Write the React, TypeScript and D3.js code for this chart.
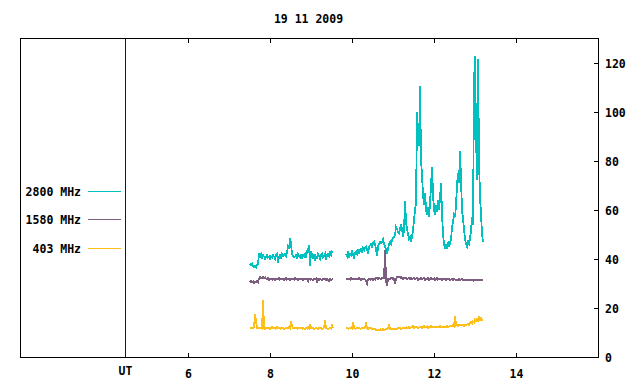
import * as d3 from 'd3'

const TITLE = '19 11 2009'
const X_TICKS = [6, 8, 10, 12, 14]
const Y_TICKS = [0, 20, 40, 60, 80, 100, 120]
const UT_HOUR = 4.46

// samples every ~1.46 min (UT hours)
const STEP = 0.02439
const SEG1_START = 7.512
const SEG2_START = 9.854

const CYAN_1 = [
  38, 37.5, 38, 37, 36.5, 37, 36.5, 37.5, 38, 42.5,
  41, 42, 40.5, 41.5, 41, 40, 41, 41.5, 40.5, 41,
  40, 41, 40.5, 41.5, 41, 40, 41.5, 42, 38.5, 41,
  41.5, 40.5, 42, 41, 41.5, 42, 41, 42.5, 45, 44,
  48.5, 46, 42, 41, 40.5, 41, 41.5, 40.5, 42, 41,
  40.5, 42, 40, 41.5, 41, 42, 40.5, 43, 44, 45.5,
  37, 43, 41.5, 40, 42, 39, 41, 40.5, 42, 41,
  40, 41.5, 42, 40.5, 41, 42, 39.5, 41.5, 42, 41,
  42.5, 41.5, 43, 42.5,
]
const CYAN_2 = [
  42, 41, 43, 40.5, 42, 41.5, 43, 42, 40, 42.5,
  43, 42, 43.5, 42.5, 43.5, 44, 43, 44.5, 43.5, 44.5,
  45, 44, 42, 45, 45.5, 46, 45, 46.5, 47, 46,
  44, 41, 45, 46, 47, 46.5, 47, 48, 46, 45,
  44, 42.5, 44, 46, 47, 46, 47.5, 48.5, 49, 50,
  53, 52, 51, 50.5, 52, 54, 52, 49, 52, 63.5,
  55, 52, 50, 48, 49, 47, 49, 52, 56, 60,
  63, 100, 92, 86, 110.5, 80, 74, 66, 62, 67,
  60, 58, 61, 57, 63, 70, 77.5, 66, 60, 58,
  62, 59, 64, 60, 65, 71, 58, 50, 46, 44.5,
  46, 44, 47, 45, 46.5, 48, 53, 55, 58, 57,
  62, 70, 75, 71, 84, 72, 60, 56, 52, 48,
  46, 45, 47, 46, 48, 52, 57, 54, 112, 122.5,
  90, 72, 121.5, 80, 65, 58, 50, 47,
]
const PURPLE_1 = [
  30.5, 31, 30.5, 30.8, 30.2, 30.8, 30.5, 31, 30.6, 32,
  32.5, 32, 32.3, 32.6, 32.2, 32.5, 32, 31.8, 32.2, 31.5,
  32, 31.8, 31.5, 32, 31.7, 31.4, 32, 31.6, 31.8, 32.2,
  31.5, 31.9, 31.6, 32, 31.4, 31.8, 32.2, 31.5, 31.9, 31.7,
  31.3, 32, 31.6, 31.8, 31.5, 32.1, 31.6, 31.9, 31.4, 32,
  31.7, 31.5, 31.9, 31.2, 31.8, 32, 31.5, 31.7, 30.8, 31.9,
  31.5, 32, 31.6, 31.2, 31.8, 31.5, 31.9, 30.6, 31.7, 31.4,
  32, 31.5, 31.2, 31.8, 31.6, 31.9, 31.3, 31.7, 31.5, 30.9,
  31.8, 31.4, 31.6, 31.7,
]
const PURPLE_2 = [
  31.8, 32, 31.6, 31.9, 31.5, 32.1, 31.8, 31.6, 32, 31.7,
  31.5, 31.9, 31.6, 32.2, 31.8, 31.4, 31.9, 31.6, 32, 31.5,
  31.2, 29.8, 31.6, 31.9, 31.5, 32, 31.7, 31.4, 31.9, 31.6,
  32.4, 32.1, 31.8, 32.3, 32, 31.7, 32.2, 31.9, 32.1, 43.5,
  31, 29, 31.8, 32, 31.6, 32.2, 31.9, 32.4, 31.8, 30,
  32, 32.6, 32.4, 32.8, 32.3, 32.6, 32.1, 31.8, 32.3, 31.9,
  32.2, 31.7, 32, 32.4, 31.8, 32.1, 31.6, 32, 32.3, 31.7,
  31.9, 32.2, 31.5, 32, 31.8, 32.3, 31.6, 31.9, 32.1, 31.5,
  32, 31.7, 32.2, 31.4, 31.9, 32.1, 31.6, 31.8, 32, 31.3,
  31.8, 32.1, 31.5, 31.9, 31.6, 32, 31.4, 31.8, 31.5, 31.9,
  31.3, 31.7, 31.5, 31.9, 31.2, 31.6, 31.8, 31.4, 31.7, 31.5,
  31.2, 31.6, 31.4, 31.8, 31.3, 31.5, 31.7, 31.2, 31.6, 31.4,
  31.1, 31.5, 31.3, 31.6, 31.2, 31.5, 31.4, 31.1, 31.6, 31.3,
  31.5, 31.2, 31.4, 31.1, 31.3, 31.5, 31.2, 31.3,
]
const YELLOW_1 = [
  11.8, 11.6, 12, 11.7, 12.1, 17.5, 14.4, 11.8, 11.6, 11.9,
  11.7, 12, 11.6, 23.3, 11.9, 11.5, 11.8, 11.6, 12, 11.7,
  11.5, 11.9, 12.2, 11.6, 11.8, 11.5, 11.7, 12.3, 11.6, 11.8,
  11.5, 11.9, 11.6, 11.8, 11.4, 11.7, 12, 11.6, 11.8, 12.2,
  11.7, 14.8, 12.5, 11.9, 11.6, 12, 11.8, 11.5, 11.9, 11.7,
  11.6, 11.8, 11.5, 11.9, 11.7, 11.4, 11.8, 11.6, 12.3, 11.7,
  13.5, 11.9, 11.6, 11.8, 11.5, 11.7, 11.9, 11.6, 11.4, 11.8,
  11.6, 11.9, 11.5, 11.7, 12, 15, 11.8, 11.6, 11.5, 11.7,
  11.9, 11.6, 13, 11.8,
]
const YELLOW_2 = [
  11.6, 11.8, 11.5, 11.7, 11.9, 12, 11.6, 14.4, 11.8, 11.5,
  11.7, 11.9, 11.6, 11.8, 11.5, 11.7, 11.9, 11.6, 11.8, 12.1,
  13.5, 11.7, 11.5, 11.8, 11.6, 11.9, 11.4, 11.7, 11.5, 11.3,
  11, 11.2, 10.8, 11, 11.3, 10.9, 11.1, 11.4, 11, 11.2,
  11.5, 11.3, 11.6, 12.9, 11.4, 11.7, 11.5, 11.3, 11.6, 11.4,
  11.7, 11.5, 11.8, 11.6, 11.9, 11.5, 11.7, 12, 11.6, 11.8,
  12.1, 11.7, 11.9, 12.2, 11.8, 12, 12.3, 12.6, 11.9, 12.2,
  12, 12.4, 11.8, 12.1, 12.5, 12.2, 11.9, 12.3, 12.6, 12,
  12.2, 12.5, 11.9, 12.3, 12.1, 12.6, 12.2, 12.4, 12, 12.3,
  12.5, 12.1, 12.4, 12.2, 12.6, 12.3, 12, 12.5, 12.2, 12.4,
  12.1, 12.6, 12.3, 12.5, 12.8, 12.4, 12.7, 13, 12.6, 16.8,
  12.9, 13.2, 12.7, 13, 12.8, 13.3, 12.9, 13.1, 12.7, 13,
  12.8, 13.2, 13.5, 13.1, 13.8, 14.2, 13.6, 14.5, 14, 15.2,
  14.6, 15.5, 14.8, 16.2, 15.1, 15.8, 14.9, 15.4,
]

const SERIES = [
  { label: '2800 MHz', color: '#00c0c0', segs: [CYAN_1, CYAN_2] },
  { label: '1580 MHz', color: '#7e5e80', segs: [PURPLE_1, PURPLE_2] },
  { label: '403 MHz', color: '#ffbf1a', segs: [YELLOW_1, YELLOW_2] },
]
const SEG_STARTS = [SEG1_START, SEG2_START]

const W = 640
const H = 384
const FONT = '"DejaVu Sans Mono", monospace'

export default function App() {
  const left = 20, right = 598, top = 38, bottom = 357
  const x = d3.scaleLinear().domain([1.9, 16]).range([left, right])
  const y = d3.scaleLinear().domain([0, 130]).range([bottom, top])

  const segPath = (vals: number[], start: number) =>
    d3.line<number>().x((_, i) => x(start + i * STEP)).y((d) => y(d))(vals) || ''

  const txt = { fontFamily: FONT, fontSize: 11.5, fontWeight: 700, fill: '#000' } as const
  const utX = Math.round(x(UT_HOUR)) + 0.5

  return (
    <svg width={W} height={H} style={{ position: 'absolute', left: 0, top: 0, background: '#fff' }}>
      <text x={308.5} y={23} textAnchor="middle" {...txt}>{TITLE}</text>

      {/* data */}
      {SERIES.map((s) =>
        s.segs.map((vals, k) => (
          <path key={s.label + k} d={segPath(vals, SEG_STARTS[k])} fill="none"
            stroke={s.color} strokeWidth={1.8} strokeLinejoin="miter" shapeRendering="crispEdges" />
        ))
      )}

      {/* UT marker */}
      <line x1={utX} x2={utX} y1={top} y2={bottom}
        stroke="#4a0000" strokeWidth={1} shapeRendering="crispEdges" />

      {/* frame */}
      <rect x={left + 0.5} y={top + 0.5} width={right - left} height={bottom - top}
        fill="none" stroke="#000" strokeWidth={1} shapeRendering="crispEdges" />

      {/* x ticks */}
      {X_TICKS.map((t) => {
        const px = Math.round(x(t)) + 0.5
        return (
          <g key={'x' + t}>
            <line x1={px} x2={px} y1={bottom} y2={bottom - 4} stroke="#000" />
            <line x1={px} x2={px} y1={top + 1} y2={top + 5} stroke="#000" />
            <text x={px} y={378} textAnchor="middle" {...txt}>{t}</text>
          </g>
        )
      })}
      <text x={utX} y={375} textAnchor="middle" {...txt}>UT</text>

      {/* y ticks (right) */}
      {Y_TICKS.map((t) => {
        const py = Math.round(y(t)) + 0.5
        return (
          <g key={'y' + t}>
            <line x1={right} x2={right - 4} y1={py} y2={py} stroke="#000" />
            <text x={605} y={py + 4} textAnchor="start" {...txt}>{t}</text>
          </g>
        )
      })}

      {/* legend */}
      {SERIES.map((s, i) => {
        const ly = [191.5, 219.5, 248.5][i]
        return (
          <g key={'l' + s.label}>
            <text x={81} y={ly + 4} textAnchor="end" {...txt}>{s.label}</text>
            <line x1={88} x2={121} y1={ly} y2={ly} stroke={s.color} strokeWidth={1} />
          </g>
        )
      })}
    </svg>
  )
}
